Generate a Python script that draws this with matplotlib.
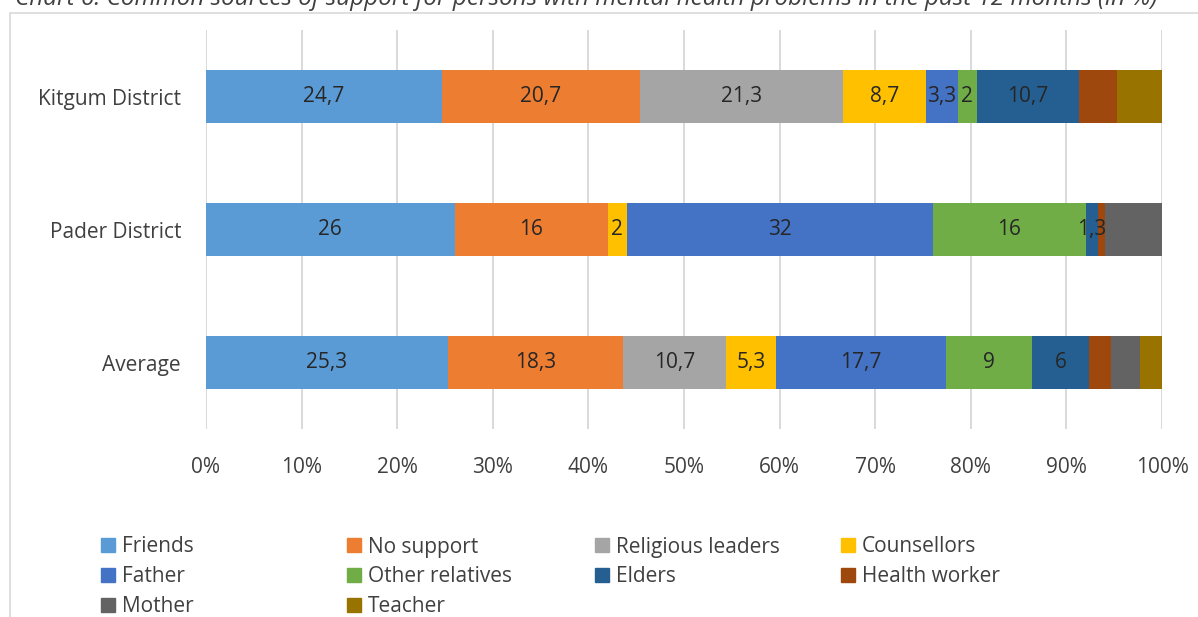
import matplotlib
matplotlib.use("Agg")
import matplotlib.pyplot as plt
from matplotlib.patches import Rectangle
import numpy as np

plt.rcParams['font.family'] = ['Open Sans', 'DejaVu Sans']

categories = ["Kitgum District", "Pader District", "Average"]
sources = ["Friends", "No support", "Religious leaders", "Counsellors",
           "Father", "Other relatives", "Elders", "Health worker",
           "Mother", "Teacher"]

friends = [24.7, 26.0, 25.3]
no_support = [20.7, 16.0, 18.3]
religious_leaders = [21.3, 0.0, 10.7]
counsellors = [8.7, 2.0, 5.3]
father = [3.3, 32.0, 17.7]
other_relatives = [2.0, 16.0, 9.0]
elders = [10.7, 1.3, 6.0]
health_worker = [4.0, 0.7, 2.3]
mother = [0.0, 6.0, 3.0]
teacher = [4.7, 0.0, 2.3]

series = [friends, no_support, religious_leaders, counsellors, father,
          other_relatives, elders, health_worker, mother, teacher]
colors = ["#5B9BD5", "#ED7D31", "#A5A5A5", "#FFC000", "#4472C4",
          "#70AD47", "#255E91", "#9E480E", "#636363", "#997300"]
# segments that carry a value label
labelled = ["Friends", "No support", "Religious leaders", "Counsellors",
            "Father", "Other relatives", "Elders"]

W, H = 1198, 617
fig = plt.figure(figsize=(W / 100, H / 100), dpi=100)

# chart frame
fig.patches.append(Rectangle((10 / W, -0.05), 1.2, 1 - 13 / H + 0.05,
                             transform=fig.transFigure, fill=False,
                             edgecolor="#D9D9D9", linewidth=1.2))

ax = fig.add_axes([206 / W, 1 - 429 / H, 956 / W, 399 / H])

data = np.array(series, dtype=float)
totals = data.sum(axis=0)
shares = data / totals * 100
y = np.arange(len(categories))
left = np.zeros(len(categories))
text_color = "#262626"
for name, vals, raw, col in zip(sources, shares, data, colors):
    ax.barh(y, vals, left=left, height=0.4, color=col, label=name, zorder=2)
    if name in labelled:
        for yi, l, v, r in zip(y, left, vals, raw):
            if r > 0:
                ax.text(l + v / 2, yi, f"{r:g}".replace(".", ","),
                        ha="center", va="center", fontsize=15,
                        color=text_color, zorder=3)
    left += vals

ax.set_xlim(0, 100)
ax.set_ylim(2.5, -0.5)
ax.set_xticks(np.arange(0, 101, 10))
ax.set_xticklabels([f"{t}%" for t in range(0, 101, 10)])
ax.set_yticks(y)
ax.set_yticklabels(categories)
ax.tick_params(axis="both", length=0, labelsize=15, labelcolor="#404040")
ax.tick_params(axis="x", pad=20)
ax.tick_params(axis="y", pad=18)
ax.grid(axis="x", color="#D9D9D9", linewidth=1.4, zorder=0)
ax.set_axisbelow(True)
for s in ax.spines.values():
    s.set_visible(False)

# legend laid out on a fixed 4-column grid
col_x = [101, 347, 595, 841]
row_y = [547, 577, 607]
for i, (name, col) in enumerate(zip(sources, colors)):
    cx = col_x[i % 4]
    cy = row_y[i // 4]
    fig.patches.append(Rectangle((cx / W, 1 - (cy + 5) / H), 14 / W, 14 / H,
                                 transform=fig.transFigure, color=col))
    fig.text((cx + 21) / W, 1 - cy / H, name, ha="left", va="center",
             fontsize=15, color="#404040")

fig.text(15 / W, 1 - 5 / H,
         "Chart 6: Common sources of support for persons with mental health "
         "problems in the past 12 months (in %)",
         ha="left", va="baseline", fontsize=17.5, style="italic",
         color="#404040")

fig.savefig("out.png", dpi=100)
